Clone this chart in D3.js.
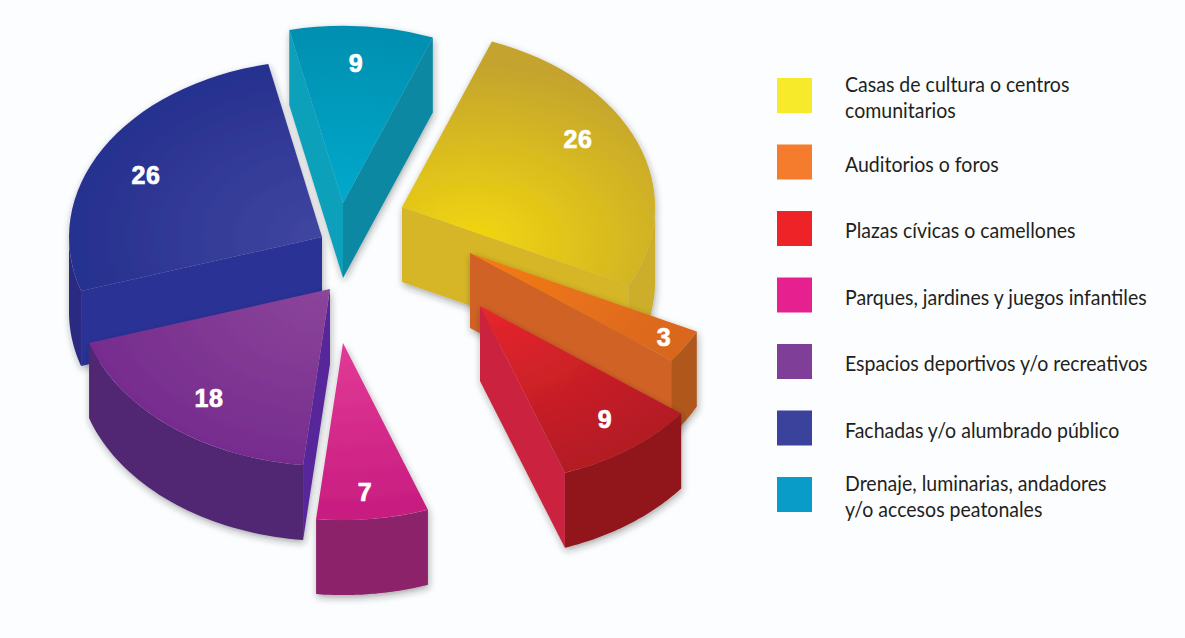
<!DOCTYPE html>
<html>

<head>
  <meta charset="utf-8">
  <title>Pie 3D</title>
  <script src="https://d3js.org/d3.v7.min.js"></script>
  <style>
    body { margin: 0; background: #fcfdfe; }
    svg { display: block; }
  </style>
</head>

<body>
  <script>
    // data
    var categories = [
      ["Casas de cultura o centros", "comunitarios"],
      ["Auditorios o foros"],
      ["Plazas cívicas o camellones"],
      ["Parques, jardines y juegos infantiles"],
      ["Espacios deportivos y/o recreativos"],
      ["Fachadas y/o alumbrado público"],
      ["Drenaje, luminarias, andadores", "y/o accesos peatonales"]
    ];
    var values = [26, 3, 9, 7, 18, 26, 9];

    // colours: legend, top face (near apex, rim), cut wall, outer wall
    var legendColors = ["#f6ea2a", "#f47c2c", "#ee2328", "#e6218f", "#7f3f98", "#3a429b", "#0a9cc9"];
    var topInner = ["#f2d70e", "#f67c16", "#e8262c", "#e23a96", "#8c459a", "#3f46a0", "#00a9cc"];
    var topOuter = ["#c4a42e", "#d8661f", "#b21a24", "#c71c80", "#762c8e", "#27308f", "#008fb0"];
    var wallColors = ["#d6b626", "#d06226", "#cb2040", "#c71c80", "#57289a", "#2b3196", "#0fa0ba"];
    var rimColors = ["#cdae2a", "#b0581f", "#90161f", "#8c2169", "#512573", "#2a2b82", "#0a88a3"];

    // layout
    var width = 1185;
    var height = 638;
    var cx = 345, cy = 265;   // pie centre
    var radius = 253;
    var tilt = 0.7;           // y squash of the disc
    var depth = 75;           // slice thickness
    var startDeg = 20.8;

    // how far each slice is pulled out of the centre, and where its number sits
    var explode = [[57, -58], [125, -12], [135, 41], [-2, 78], [-15, 24], [-23, -28], [-2, -62]];
    var labelOffset = [[176, -68], [194, 84], [125, 113], [22, 149], [-121, 109], [-176, -62], [13, -140]];
    var glowCentre = [[70, 50], [0, 0], [0, 0], [0, 0], [0, 0], [0, 0], [0, 0]];
    var drawOrder = [6, 0, 1, 2, 5, 4, 3];

    var svg = d3.select("body").append("svg").attr("width", width).attr("height", height);
    var defs = svg.append("defs");

    var shadow = defs.append("filter").attr("id", "shadow")
      .attr("x", "-20%").attr("y", "-20%").attr("width", "140%").attr("height", "140%");
    shadow.append("feDropShadow")
      .attr("dx", 1).attr("dy", 3).attr("stdDeviation", 3.5)
      .attr("flood-color", "#222").attr("flood-opacity", 0.38);

    var pie = d3.pie().sort(null).value(d => d)
      .startAngle(startDeg * Math.PI / 180)
      .endAngle((startDeg + 360) * Math.PI / 180);
    var slices = pie(values);

    var arc = d3.arc().innerRadius(0).outerRadius(radius);
    var line = d3.line();

    // point of the disc rim, for an angle measured clockwise from 12 o'clock
    function rim(a, drop) {
      return [radius * Math.sin(a), -radius * tilt * Math.cos(a) + drop];
    }

    // straight wall along a cut edge
    function cutWall(a) {
      return line([[0, 0], rim(a, 0), rim(a, depth), [0, depth]]) + "Z";
    }

    // curved wall, only the part that faces the viewer
    function outerWall(a0, a1) {
      var from = Math.max(a0, Math.PI / 2);
      var to = Math.min(a1, Math.PI * 1.5);
      if (to <= from) return null;
      var steps = d3.range(0, 41).map(i => from + (to - from) * i / 40);
      var pts = steps.map(a => rim(a, 0)).concat(steps.slice().reverse().map(a => rim(a, depth)));
      return line(pts) + "Z";
    }

    drawOrder.forEach(function (i) {
      var d = slices[i];
      var g = svg.append("g")
        .attr("transform", "translate(" + (cx + explode[i][0]) + "," + (cy + explode[i][1]) + ")")
        .attr("filter", "url(#shadow)");

      var grad = defs.append("radialGradient")
        .attr("id", "top" + i)
        .attr("gradientUnits", "userSpaceOnUse")
        .attr("cx", glowCentre[i][0]).attr("cy", glowCentre[i][1]).attr("r", radius);
      grad.append("stop").attr("offset", "0%").attr("stop-color", topInner[i]);
      grad.append("stop").attr("offset", "100%").attr("stop-color", topOuter[i]);

      // walls only when their outward side points down the screen
      if (Math.sin(d.startAngle) < 0) {
        g.append("path").attr("d", cutWall(d.startAngle)).attr("fill", wallColors[i]);
      }
      if (Math.sin(d.endAngle) > 0) {
        g.append("path").attr("d", cutWall(d.endAngle)).attr("fill", i == 6 ? rimColors[i] : wallColors[i]);
      }
      var outer = outerWall(d.startAngle, d.endAngle);
      if (outer) g.append("path").attr("d", outer).attr("fill", rimColors[i]);

      g.append("path")
        .attr("d", arc(d))
        .attr("transform", "scale(1," + tilt + ")")
        .attr("fill", "url(#top" + i + ")");
    });

    // numbers on the slices
    svg.append("g")
      .selectAll("text")
      .data(slices)
      .enter()
      .append("text")
      .attr("x", (d, i) => cx + explode[i][0] + labelOffset[i][0])
      .attr("y", (d, i) => cy + explode[i][1] + labelOffset[i][1])
      .attr("dy", "0.36em")
      .attr("text-anchor", "middle")
      .attr("font-family", "Liberation Sans")
      .attr("font-weight", "bold")
      .attr("font-size", 25)
      .attr("letter-spacing", 0.6)
      .attr("stroke", "#fff")
      .attr("stroke-width", 0.7)
      .attr("fill", "#fff")
      .text(d => d.value);

    // legend
    var legendY = d3.scalePoint()
      .domain(d3.range(categories.length))
      .range([78, 477]);

    var legend = svg.append("g")
      .selectAll("g")
      .data(categories)
      .enter()
      .append("g")
      .attr("transform", (d, i) => "translate(777," + legendY(i) + ")");

    legend.append("rect")
      .attr("width", 35)
      .attr("height", 35)
      .attr("fill", (d, i) => legendColors[i]);

    legend.selectAll("text")
      .data(d => d.map(t => ({ text: t, lines: d.length })))
      .enter()
      .append("text")
      .attr("transform", (d, j) => "translate(68," + (d.lines == 2 ? 14 + j * 26 : 27) + ") scale(0.93,1)")
      .attr("font-family", "Lato")
      .attr("font-size", 21)
      .attr("fill", "#231f20")
      .text(d => d.text);
  </script>

</body>

</html>
